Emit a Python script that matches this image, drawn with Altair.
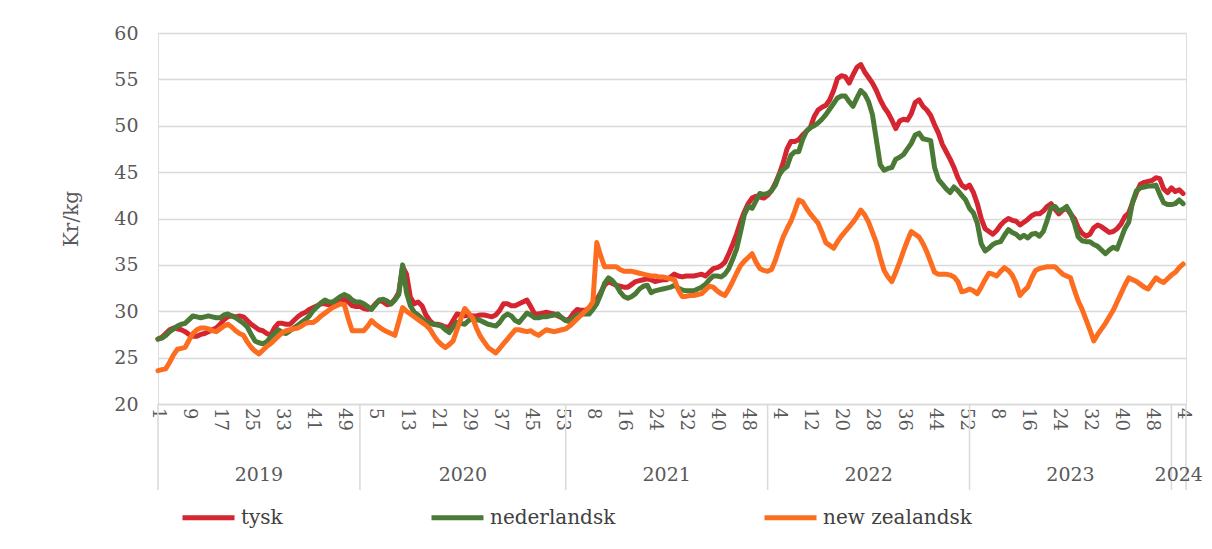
import altair as alt
import pandas as pd

years = ["2019", "2020", "2021", "2022", "2023", "2024"]
weeks_per_year = [52, 53, 52, 52, 52, 4]
series_names = ["tysk", "nederlandsk", "new zealandsk"]
series_colors = ["#d42531", "#4a7a35", "#fd6d20"]

tysk = {
    "2019": [27.0, 27.2, 27.6, 28.0, 28.2, 28.1, 28.0, 27.8, 27.5, 27.3,
             27.3, 27.5, 27.6, 27.8, 28.0, 28.2, 28.6, 29.1, 29.4, 29.5,
             29.4, 29.5, 29.4, 29.0, 28.6, 28.3, 28.0, 27.9, 27.6, 27.4,
             28.2, 28.7, 28.7, 28.6, 28.6, 29.0, 29.4, 29.7, 29.9, 30.2,
             30.4, 30.6, 30.8, 30.8, 30.7, 30.9, 31.1, 31.2, 31.3, 31.0,
             30.6, 30.5],
    "2020": [30.5, 30.3, 30.2, 30.3, 30.8, 31.2, 31.0, 30.7, 30.8, 31.3,
             32.0, 34.8, 34.0, 31.5, 30.8, 31.0, 30.6, 29.6, 29.0, 28.6,
             28.6, 28.5, 28.3, 28.3, 29.0, 29.7, 29.6, 29.5, 29.6, 29.5,
             29.5, 29.6, 29.6, 29.5, 29.4, 29.6, 30.1, 30.8, 30.8, 30.6,
             30.6, 30.8, 31.0, 31.2, 30.5, 29.7, 29.7, 29.8, 29.9, 29.8,
             29.7, 29.5, 29.3],
    "2021": [29.0, 29.2, 29.8, 30.2, 30.1, 30.1, 30.3, 30.8, 31.3, 32.0,
             32.8, 33.2, 33.0, 32.8, 32.7, 32.6, 32.6, 32.9, 33.2, 33.3,
             33.4, 33.5, 33.4, 33.2, 33.3, 33.4, 33.4, 33.7, 34.0, 33.8,
             33.7, 33.8, 33.8, 33.8, 33.9, 34.0, 33.8, 34.2, 34.6, 34.7,
             34.9, 35.3, 36.2, 37.2, 38.3, 39.6, 40.7, 41.6, 42.2, 42.4,
             42.3, 42.2],
    "2022": [42.5, 43.0, 43.8, 44.8, 46.0, 47.5, 48.3, 48.3, 48.5, 49.0,
             49.4, 49.8, 51.0, 51.7, 52.0, 52.2, 52.8, 53.8, 55.1, 55.4,
             55.3, 54.6, 55.5, 56.3, 56.6, 55.8, 55.2, 54.6, 53.8, 52.8,
             52.0, 51.4, 50.6, 49.7, 50.5, 50.7, 50.6, 51.3, 52.5, 52.8,
             52.1, 51.7, 51.1, 50.1, 49.2, 48.0, 47.2, 46.4, 45.5, 44.4,
             43.6, 43.3],
    "2023": [43.6, 42.8, 41.6, 40.0, 38.9, 38.6, 38.3, 38.7, 39.3, 39.7,
             40.0, 39.8, 39.7, 39.3, 39.6, 39.9, 40.3, 40.5, 40.5, 40.8,
             41.3, 41.6, 41.0, 40.5, 40.9, 41.1, 40.5, 40.0, 39.0, 38.4,
             38.1, 38.3, 39.0, 39.3, 39.1, 38.8, 38.5, 38.6, 38.9, 39.4,
             40.2, 40.6, 41.7, 42.8, 43.7, 43.9, 44.0, 44.1, 44.4, 44.3,
             43.2, 42.8],
    "2024": [43.3, 42.9, 43.1, 42.7],
}

nederlandsk = {
    "2019": [27.0, 27.1, 27.4, 27.8, 28.1, 28.4, 28.6, 28.7, 29.1, 29.5,
             29.4, 29.3, 29.4, 29.5, 29.4, 29.3, 29.3, 29.6, 29.7, 29.5,
             29.3, 29.0, 28.7, 28.3, 27.5, 26.8, 26.6, 26.5, 26.7, 27.2,
             27.6, 28.0, 27.7, 27.6, 27.9, 28.2, 28.5, 28.8, 29.1, 29.5,
             30.1, 30.5, 30.9, 31.2, 31.0, 31.0, 31.3, 31.6, 31.8, 31.6,
             31.2, 31.0],
    "2020": [31.0, 30.8, 30.5, 30.2, 30.7, 31.2, 31.3, 31.1, 30.8, 31.2,
             31.8, 35.0, 32.0, 30.6, 29.9, 29.6, 29.2, 28.9, 28.7, 28.6,
             28.5, 28.4, 28.0, 27.7, 28.3, 28.8, 28.7, 28.6, 29.0, 29.2,
             29.1, 29.0, 28.8, 28.6, 28.5, 28.4, 28.8, 29.4, 29.7, 29.5,
             29.0, 28.8, 29.3, 29.8, 29.6, 29.3, 29.3, 29.4, 29.4, 29.5,
             29.6, 29.7, 29.3],
    "2021": [29.0, 28.9, 29.3, 29.6, 29.7, 29.7, 29.7, 30.2, 30.8, 31.8,
             33.0, 33.6, 33.3, 32.8, 32.1, 31.6, 31.4, 31.6, 31.9, 32.4,
             32.7, 32.8, 32.0, 32.2, 32.3, 32.4, 32.5, 32.6, 32.8, 32.5,
             32.3, 32.2, 32.2, 32.2, 32.4, 32.6, 32.9, 33.4, 33.8, 33.8,
             33.7, 34.0, 34.6, 35.6, 36.7, 38.5, 40.4, 41.3, 41.1, 41.9,
             42.7, 42.6],
    "2022": [42.7, 43.0, 43.6, 44.7, 45.3, 45.6, 46.8, 47.2, 47.2, 48.5,
             49.4, 49.8, 50.0, 50.3, 50.7, 51.2, 51.8, 52.4, 53.0, 53.2,
             53.2, 52.6, 52.1, 53.0, 53.8, 53.4, 52.6, 51.2, 48.5, 45.8,
             45.2, 45.4, 45.5, 46.4, 46.6, 46.9, 47.5, 48.1, 49.0, 49.2,
             48.6, 48.5, 48.4, 45.5, 44.2, 43.7, 43.2, 42.8, 43.4, 43.0,
             42.5, 42.0],
    "2023": [41.1, 40.6, 39.5, 37.3, 36.5, 36.8, 37.2, 37.4, 37.5, 38.2,
             38.8, 38.5, 38.3, 37.9, 38.2, 37.9, 38.3, 38.4, 38.1, 38.6,
             39.8, 41.2, 41.3, 40.8, 41.0, 41.3, 40.6, 39.5, 38.0, 37.6,
             37.5, 37.5, 37.2, 37.0, 36.6, 36.2, 36.6, 36.9, 36.7, 37.8,
             38.9, 39.6, 41.8, 43.0, 43.3, 43.4, 43.5, 43.5, 43.6, 42.6,
             41.7, 41.5],
    "2024": [41.5, 41.6, 42.0, 41.6],
}

new_zealandsk = {
    "2019": [23.6, 23.7, 23.8, 24.5, 25.3, 25.9, 26.0, 26.1, 26.9, 27.6,
             28.0, 28.2, 28.2, 28.1, 27.9, 27.8, 28.1, 28.4, 28.6, 28.3,
             27.9, 27.6, 27.4, 26.7, 26.1, 25.7, 25.4, 25.8, 26.2, 26.5,
             26.9, 27.3, 27.7, 27.9, 28.0, 28.1, 28.2, 28.4, 28.7, 28.8,
             28.8, 29.1, 29.5, 29.8, 30.1, 30.4, 30.6, 30.8, 30.7, 29.2,
             27.9, 27.9],
    "2020": [27.9, 27.9, 28.4, 29.0, 28.6, 28.3, 28.0, 27.8, 27.6, 27.4,
             28.9, 30.4, 30.0, 29.7, 29.4, 29.1, 28.8, 28.5, 28.1, 27.4,
             26.8, 26.4, 26.1, 26.4, 26.8, 28.0, 29.2, 30.3, 29.8, 29.3,
             28.2, 27.3, 26.7, 26.1, 25.8, 25.5, 26.0, 26.5, 27.0, 27.5,
             28.0, 28.0, 27.9, 27.8, 27.9, 27.6, 27.4, 27.7, 28.0, 27.9,
             27.8, 27.9, 28.0],
    "2021": [28.1, 28.4, 28.8, 29.2, 29.6, 30.0, 30.4, 31.0, 37.4, 36.0,
             34.8, 34.8, 34.8, 34.8, 34.5, 34.3, 34.3, 34.3, 34.2, 34.1,
             34.0, 33.9, 33.8, 33.8, 33.7, 33.7, 33.6, 33.5, 33.4, 32.3,
             31.6, 31.6, 31.7, 31.7, 31.8, 31.9, 32.3, 32.7, 32.6, 32.2,
             31.9, 31.7, 32.4, 33.2, 34.1, 34.9, 35.4, 35.8, 36.2, 35.3,
             34.6, 34.4],
    "2022": [34.3, 34.5, 35.5, 36.8, 38.0, 38.9, 39.7, 40.8, 42.0, 41.8,
             41.1, 40.5, 40.0, 39.5, 38.5, 37.4, 37.1, 36.8, 37.5, 38.1,
             38.6, 39.1, 39.6, 40.2, 40.9, 40.4, 39.6, 38.5, 37.4, 35.8,
             34.4, 33.7, 33.2, 34.2, 35.3, 36.5, 37.6, 38.6, 38.3, 38.0,
             37.3, 36.4, 35.3, 34.2, 34.0, 34.0, 34.0, 33.9, 33.7, 33.2,
             32.1, 32.2],
    "2023": [32.4, 32.2, 31.9, 32.6, 33.4, 34.1, 34.0, 33.8, 34.3, 34.7,
             34.4, 33.9, 33.0, 31.7, 32.2, 32.6, 33.6, 34.4, 34.6, 34.7,
             34.8, 34.8, 34.8, 34.4, 34.0, 33.8, 33.6, 32.3, 31.1, 30.2,
             29.1, 28.0, 26.8, 27.5, 28.1, 28.7, 29.4, 30.1, 31.0, 31.9,
             32.8, 33.6, 33.4, 33.2, 32.9, 32.6, 32.4, 33.0, 33.6, 33.3,
             33.1, 33.5],
    "2024": [33.9, 34.2, 34.7, 35.1],
}

week_tick_labels = ["1", "9", "17", "25", "33", "41", "49",
                    "5", "13", "21", "29", "37", "45", "53",
                    "8", "16", "24", "32", "40", "48",
                    "4", "12", "20", "28", "36", "44", "52",
                    "8", "16", "24", "32", "40", "48",
                    "4"]
y_ticks = [20, 25, 30, 35, 40, 45, 50, 55, 60]

# ---- build tables ----
rows = []
for name, d in zip(series_names, [tysk, nederlandsk, new_zealandsk]):
    idx = 0
    for yr in years:
        for w, v in enumerate(d[yr]):
            rows.append({"i": idx, "year": yr, "week": w + 1, "serie": name, "v": v})
            idx += 1
df = pd.DataFrame(rows)

starts = [0]
for n in weeks_per_year:
    starts.append(starts[-1] + n)
last_idx = starts[-1] - 1
x_end = last_idx + 0.75
bounds = starts[:-1] + [x_end]
div_df = pd.DataFrame({"b": bounds})
yr_df = pd.DataFrame({"year": years,
                      "mid": [(bounds[k] + bounds[k + 1]) / 2 for k in range(len(years))]})

tick_vals = list(range(0, last_idx + 1, 8))
tick_df = pd.DataFrame({"t": tick_vals, "lab": week_tick_labels})

W, H = 1028, 371
FONT = "DejaVu Serif"
TXT = "#595959"

xscale = alt.Scale(domain=[0, x_end], nice=False, zero=False)
yscale = alt.Scale(domain=[20, 60], nice=False, zero=False)

xaxis = alt.Axis(values=tick_vals, labels=False, ticks=False,
                 grid=False, domainColor="#d9d9d9", domainWidth=1.5, title=None)
yaxis = alt.Axis(values=y_ticks, title="Kr/kg", grid=True, gridColor="#d9d9d9",
                 gridWidth=1.5, domain=False, ticks=False, labelPadding=20,
                 labelFont=FONT, labelFontSize=19, labelColor=TXT,
                 titleFont=FONT, titleFontSize=20, titleColor=TXT,
                 titleFontWeight="normal", titlePadding=32)

color = alt.Color("serie:N",
                  scale=alt.Scale(domain=series_names, range=series_colors),
                  legend=alt.Legend(orient="none", legendX=22, legendY=456,
                                    direction="horizontal", columns=3, title=None,
                                    symbolType="stroke", symbolSize=2704,
                                    symbolStrokeWidth=5, labelFont=FONT,
                                    labelFontSize=20, labelColor="#404040",
                                    columnPadding=138, labelOffset=4))

layers = []
for name in series_names:
    layers.append(
        alt.Chart(df).transform_filter(alt.datum.serie == name)
        .mark_line(strokeWidth=5, strokeJoin="round", strokeCap="round")
        .encode(x=alt.X("i:Q", scale=xscale, axis=xaxis),
                y=alt.Y("v:Q", scale=yscale, axis=yaxis),
                color=color)
    )

week_text = alt.Chart(tick_df).mark_text(font=FONT, fontSize=18, color=TXT, angle=90,
                                         align="left", baseline="middle").encode(
    x=alt.X("t:Q", scale=xscale), y=alt.value(H + 4), text="lab:N")

dividers = alt.Chart(div_df).mark_rule(color="#d9d9d9", strokeWidth=1.5).encode(
    x=alt.X("b:Q", scale=xscale), y=alt.value(H), y2=alt.value(H + 86))

year_text = alt.Chart(yr_df).mark_text(font=FONT, fontSize=19, color=TXT,
                                       baseline="middle", align="center").encode(
    x=alt.X("mid:Q", scale=xscale), y=alt.value(H + 71), text="year:N")

chart = alt.layer(*layers, week_text, dividers, year_text).properties(
    width=W, height=H,
    autosize=alt.AutoSizeParams(type="none"),
    padding={"left": 150, "top": 25, "right": 18, "bottom": 137},
).configure_view(stroke=None).configure(background="white")

chart.save("out.html", embed_options={"renderer": "svg", "actions": False})
